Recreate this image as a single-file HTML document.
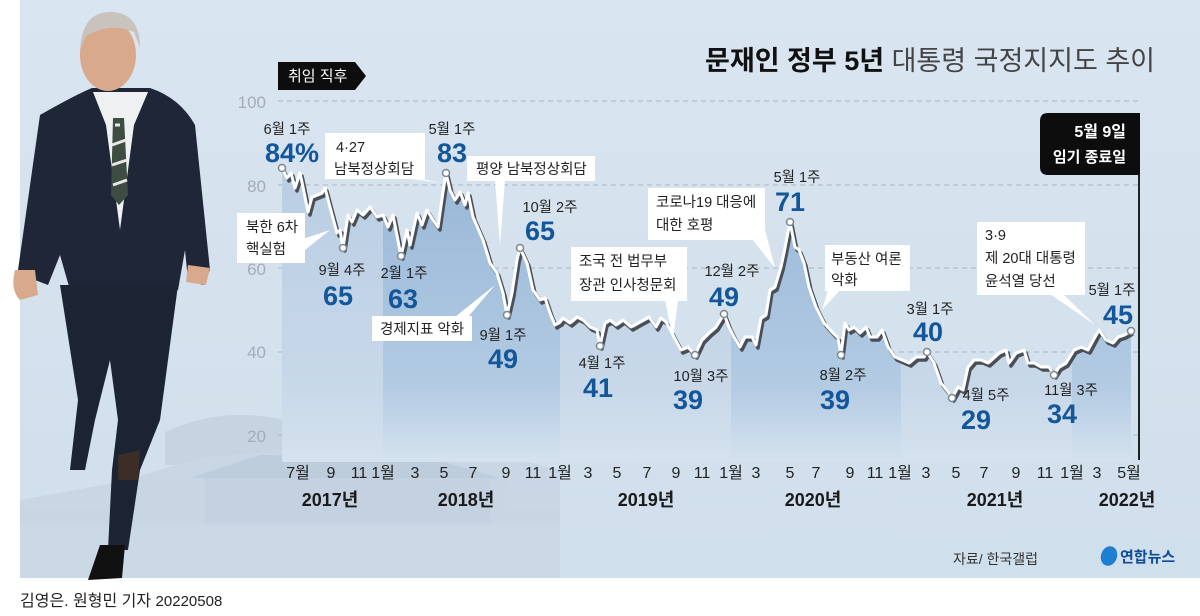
<!DOCTYPE html>
<html><head><meta charset="utf-8">
<style>
html,body{margin:0;padding:0;background:#fff;}
body{width:1200px;height:616px;overflow:hidden;position:relative;font-family:"Liberation Sans","Noto Sans CJK KR",sans-serif;}
svg{position:absolute;left:0;top:0;}
</style></head><body>
<svg width="1200" height="616" viewBox="0 0 1200 616" xmlns="http://www.w3.org/2000/svg" font-family="Liberation Sans, Noto Sans CJK KR, sans-serif">
<defs>
<linearGradient id="gd" x1="0" y1="0" x2="0" y2="1"><stop offset="0" stop-color="#98b7d7"/><stop offset="0.75" stop-color="#b3cbe3"/><stop offset="1" stop-color="#d5e2ee"/></linearGradient>
<linearGradient id="gl" x1="0" y1="0" x2="0" y2="1"><stop offset="0" stop-color="#b9cee3"/><stop offset="0.75" stop-color="#c8d8e9"/><stop offset="1" stop-color="#d5e2ee"/></linearGradient>
<linearGradient id="bg" x1="0" y1="0" x2="0" y2="1"><stop offset="0" stop-color="#d9e5f0"/><stop offset="1" stop-color="#d0dfec"/></linearGradient>
<clipPath id="cd"><rect x="383" y="0" width="177" height="470"/><rect x="731" y="0" width="170" height="470"/><rect x="1072" y="0" width="60" height="470"/></clipPath>
<path id="area" d="M282,168 287,178 291,173 295,188 300,173 303,187 308,212 312,197 322,193 325,188 330,207 337,233 340,230 343,248 348,215 352,222 357,210 363,215 370,207 377,217 383,215 388,227 393,215 401,256 407,230 410,245 417,213 422,225 427,210 433,220 438,227 443,192 446,173 450,190 455,200 460,192 465,205 468,193 473,217 483,240 490,263 497,273 503,293 507,315 512,293 517,260 520,248 527,263 533,290 540,300 545,298 550,313 555,325 560,322 563,318 570,323 577,317 583,320 590,327 597,330 600,346 605,323 610,320 616,325 623,320 631,327 638,323 649,317 656,327 661,318 666,322 674,337 681,350 688,347 695,355 702,340 709,333 716,327 724,314 729,327 734,337 740,347 745,337 752,337 756,345 761,318 766,315 770,290 775,287 781,267 784,253 790,222 795,247 799,250 804,263 809,287 816,307 824,323 833,333 838,338 841,355 845,323 849,330 854,327 860,333 866,327 870,337 877,337 882,330 888,347 895,357 902,360 909,363 916,357 924,357 927,352 934,363 941,383 949,393 952,398 958,387 963,390 968,367 974,360 981,360 988,363 999,353 1006,350 1009,363 1016,353 1024,350 1028,363 1034,363 1041,367 1049,367 1054,375 1059,367 1066,363 1074,350 1081,347 1088,350 1095,337 1099,330 1106,340 1113,343 1118,337 1124,335 1131,331 L1131,462 L282,462 Z"/>
</defs>
<rect x="20" y="0" width="1180" height="578" fill="url(#bg)"/>
<!-- palace silhouette -->
<g opacity="0.75">
<path d="M165,432 Q235,400 310,428 L320,465 L165,465 Z" fill="#c2cfdd"/>
<path d="M20,500 L120,482 L200,458 L330,445 L470,448 L560,470 L560,578 L20,578 Z" fill="#c6d3e1"/>
<path d="M190,478 L260,455 L420,455 L500,478 Z" fill="#b8c7d7"/>
<rect x="205" y="478" width="285" height="45" fill="#bfcddc"/>
<rect x="20" y="525" width="540" height="53" fill="#cad7e4"/>
</g>
<!-- grid -->
<g stroke="#a9b5c2" stroke-width="1" stroke-dasharray="5,4">
<line x1="278" y1="101" x2="1138" y2="101"/><line x1="278" y1="185" x2="1138" y2="185"/><line x1="278" y1="268" x2="1138" y2="268"/><line x1="278" y1="352" x2="1138" y2="352"/><line x1="278" y1="435" x2="1138" y2="435"/>
</g>
<g fill="#a3adb8" font-size="17" text-anchor="end">
<text x="266" y="108">100</text><text x="266" y="192">80</text><text x="266" y="275">60</text><text x="266" y="358">40</text><text x="266" y="442">20</text>
</g>
<use href="#area" fill="url(#gl)"/>
<use href="#area" fill="url(#gd)" clip-path="url(#cd)"/>
<line x1="1139" y1="150" x2="1139" y2="460" stroke="#222" stroke-width="2"/>
<!-- line -->
<polyline transform="translate(2,3)" fill="none" stroke="#4a4f57" stroke-width="3.5" stroke-linejoin="round" points="282,168 287,178 291,173 295,188 300,173 303,187 308,212 312,197 322,193 325,188 330,207 337,233 340,230 343,248 348,215 352,222 357,210 363,215 370,207 377,217 383,215 388,227 393,215 401,256 407,230 410,245 417,213 422,225 427,210 433,220 438,227 443,192 446,173 450,190 455,200 460,192 465,205 468,193 473,217 483,240 490,263 497,273 503,293 507,315 512,293 517,260 520,248 527,263 533,290 540,300 545,298 550,313 555,325 560,322 563,318 570,323 577,317 583,320 590,327 597,330 600,346 605,323 610,320 616,325 623,320 631,327 638,323 649,317 656,327 661,318 666,322 674,337 681,350 688,347 695,355 702,340 709,333 716,327 724,314 729,327 734,337 740,347 745,337 752,337 756,345 761,318 766,315 770,290 775,287 781,267 784,253 790,222 795,247 799,250 804,263 809,287 816,307 824,323 833,333 838,338 841,355 845,323 849,330 854,327 860,333 866,327 870,337 877,337 882,330 888,347 895,357 902,360 909,363 916,357 924,357 927,352 934,363 941,383 949,393 952,398 958,387 963,390 968,367 974,360 981,360 988,363 999,353 1006,350 1009,363 1016,353 1024,350 1028,363 1034,363 1041,367 1049,367 1054,375 1059,367 1066,363 1074,350 1081,347 1088,350 1095,337 1099,330 1106,340 1113,343 1118,337 1124,335 1131,331"/>
<polyline fill="none" stroke="#ffffff" stroke-width="3" stroke-linejoin="round" points="282,168 287,178 291,173 295,188 300,173 303,187 308,212 312,197 322,193 325,188 330,207 337,233 340,230 343,248 348,215 352,222 357,210 363,215 370,207 377,217 383,215 388,227 393,215 401,256 407,230 410,245 417,213 422,225 427,210 433,220 438,227 443,192 446,173 450,190 455,200 460,192 465,205 468,193 473,217 483,240 490,263 497,273 503,293 507,315 512,293 517,260 520,248 527,263 533,290 540,300 545,298 550,313 555,325 560,322 563,318 570,323 577,317 583,320 590,327 597,330 600,346 605,323 610,320 616,325 623,320 631,327 638,323 649,317 656,327 661,318 666,322 674,337 681,350 688,347 695,355 702,340 709,333 716,327 724,314 729,327 734,337 740,347 745,337 752,337 756,345 761,318 766,315 770,290 775,287 781,267 784,253 790,222 795,247 799,250 804,263 809,287 816,307 824,323 833,333 838,338 841,355 845,323 849,330 854,327 860,333 866,327 870,337 877,337 882,330 888,347 895,357 902,360 909,363 916,357 924,357 927,352 934,363 941,383 949,393 952,398 958,387 963,390 968,367 974,360 981,360 988,363 999,353 1006,350 1009,363 1016,353 1024,350 1028,363 1034,363 1041,367 1049,367 1054,375 1059,367 1066,363 1074,350 1081,347 1088,350 1095,337 1099,330 1106,340 1113,343 1118,337 1124,335 1131,331"/>
<g fill="#fff" stroke="#7d8792" stroke-width="1.5">
<circle cx="282" cy="168" r="3.5"/><circle cx="343" cy="248" r="3.5"/><circle cx="401" cy="256" r="3.5"/><circle cx="446" cy="173" r="3.5"/><circle cx="507" cy="315" r="3.5"/><circle cx="520" cy="248" r="3.5"/><circle cx="600" cy="346" r="3.5"/><circle cx="695" cy="355" r="3.5"/><circle cx="724" cy="314" r="3.5"/><circle cx="790" cy="222" r="3.5"/><circle cx="841" cy="355" r="3.5"/><circle cx="927" cy="352" r="3.5"/><circle cx="952" cy="398" r="3.5"/><circle cx="1054" cy="375" r="3.5"/><circle cx="1131" cy="331" r="3.5"/>
</g>
<!-- callouts -->
<g fill="#fff">
<rect x="325" y="133" width="100" height="46"/><path d="M405,178 L418,178 L440,183 Z"/>
<rect x="467" y="156" width="128" height="25"/><path d="M495,180 L505,180 L500,245 Z"/>
<rect x="237" y="213" width="68" height="50"/><path d="M300,240 L305,250 L330,230 Z"/>
<rect x="372" y="316" width="100" height="25"/><path d="M455,317 L468,317 L495,285 Z"/>
<rect x="571" y="247" width="116" height="54"/><path d="M665,300 L678,300 L673,340 Z"/>
<rect x="648" y="188" width="117" height="52"/><path d="M752,239 L765,230 L775,268 Z"/>
<rect x="825" y="245" width="85" height="46"/><path d="M828,290 L840,290 L822,310 Z"/>
<rect x="977" y="222" width="108" height="73"/><path d="M1050,294 L1063,294 L1095,325 Z"/>
</g>
<g font-size="14.5" fill="#222">
<text x="336" y="152">4·27</text><text x="334" y="174">남북정상회담</text>
<text x="476" y="174">평양 남북정상회담</text>
<text x="246" y="232">북한 6차</text><text x="246" y="254">핵실험</text>
<text x="380" y="334">경제지표 악화</text>
<text x="579" y="266">조국 전 법무부</text><text x="579" y="290">장관 인사청문회</text>
<text x="656" y="207">코로나19 대응에</text><text x="656" y="230">대한 호평</text>
<text x="831" y="264">부동산 여론</text><text x="831" y="285">악화</text>
<text x="985" y="240">3·9</text><text x="985" y="263">제 20대 대통령</text><text x="985" y="286">윤석열 당선</text>
</g>
<g font-size="14.5" fill="#222" text-anchor="middle">
<text x="287" y="134">6월 1주</text><text x="452" y="134">5월 1주</text><text x="342" y="275">9월 4주</text><text x="404" y="278">2월 1주</text>
<text x="503" y="340">9월 1주</text><text x="550" y="212">10월 2주</text><text x="602" y="368">4월 1주</text><text x="701" y="381">10월 3주</text>
<text x="732" y="276">12월 2주</text><text x="797" y="182">5월 1주</text><text x="843" y="380">8월 2주</text><text x="930" y="314">3월 1주</text>
<text x="986" y="400">4월 5주</text><text x="1071" y="395">11월 3주</text><text x="1112" y="295">5월 1주</text>
</g>
<g font-size="27" font-weight="bold" fill="#13569a" text-anchor="middle">
<text x="292" y="162">84%</text><text x="452" y="162">83</text><text x="338" y="305">65</text><text x="403" y="308">63</text>
<text x="503" y="368">49</text><text x="540" y="240">65</text><text x="598" y="397">41</text><text x="688" y="409">39</text>
<text x="724" y="306">49</text><text x="790" y="211">71</text><text x="835" y="409">39</text><text x="928" y="341">40</text>
<text x="976" y="429">29</text><text x="1062" y="423">34</text><text x="1118" y="324">45</text>
</g>
<!-- end-of-term box -->
<path d="M1048,113 L1140,113 L1140,175 L1048,175 Q1040,175 1040,167 L1040,121 Q1040,113 1048,113 Z" fill="#0d0d0d"/>
<text x="1126" y="137" font-size="16" font-weight="bold" fill="#fff" text-anchor="end">5월 9일</text>
<text x="1126" y="162" font-size="15" font-weight="bold" fill="#fff" text-anchor="end">임기 종료일</text>
<!-- 취임 직후 tab -->
<path d="M278,62 L355,62 L366,76 L355,90 L278,90 Z" fill="#0d0d0d"/>
<text x="288" y="81" font-size="15" fill="#fff">취임 직후</text>
<!-- title -->
<text x="1155" y="70" font-size="27" fill="#222" text-anchor="end"><tspan font-weight="bold" fill="#111">문재인 정부 5년</tspan><tspan fill="#444"> 대통령 국정지지도 추이</tspan></text>
<!-- axis labels -->
<g font-size="16" fill="#222" text-anchor="middle">
<text x="298" y="478">7월</text><text x="331" y="478">9</text><text x="359" y="478">11</text><text x="383" y="478">1월</text><text x="415" y="478">3</text><text x="444" y="478">5</text><text x="473" y="478">7</text><text x="506" y="478">9</text><text x="533" y="478">11</text>
<text x="560" y="478">1월</text><text x="588" y="478">3</text><text x="617" y="478">5</text><text x="647" y="478">7</text><text x="676" y="478">9</text><text x="702" y="478">11</text>
<text x="731" y="478">1월</text><text x="756" y="478">3</text><text x="790" y="478">5</text><text x="816" y="478">7</text><text x="850" y="478">9</text><text x="875" y="478">11</text>
<text x="900" y="478">1월</text><text x="926" y="478">3</text><text x="956" y="478">5</text><text x="984" y="478">7</text><text x="1016" y="478">9</text><text x="1045" y="478">11</text>
<text x="1072" y="478">1월</text><text x="1097" y="478">3</text><text x="1129" y="478">5월</text>
</g>
<g font-size="18" font-weight="bold" fill="#1a1a1a" text-anchor="middle">
<text x="330" y="506">2017년</text><text x="466" y="506">2018년</text><text x="646" y="506">2019년</text><text x="813" y="506">2020년</text><text x="995" y="506">2021년</text><text x="1127" y="506">2022년</text>
</g>
<text x="953" y="564" font-size="14" fill="#333">자료/ 한국갤럽</text>
<ellipse cx="1109" cy="556" rx="8" ry="10" fill="#1e7fd0" transform="rotate(20 1109 556)"/>
<text x="1120" y="562" font-size="15" font-weight="bold" fill="#0f4c97">연합뉴스</text>
<!-- man figure -->
<g>
<path d="M40,115 Q75,95 92,88 L150,88 Q180,98 195,125 L210,270 L203,285 L188,280 L185,250 L178,290 L70,290 L60,255 L48,285 L35,280 L18,270 Z" fill="#1e2637"/>
<path d="M93,92 L106,125 L120,230 L134,125 L148,92 Z" fill="#eef0f2"/>
<path d="M113,118 L124,118 L128,195 L119,205 L111,195 Z" fill="#3e4d42"/>
<path d="M115,125 L120,125 M112,145 L126,140 M112,165 L127,160 M113,185 L127,180" stroke="#e7e7e7" stroke-width="3"/>
<path d="M60,285 L178,285 L172,330 L160,420 L140,470 L128,550 L108,550 L112,470 L118,420 L110,360 L95,420 L85,470 L70,470 L78,400 Z" fill="#1c2333"/>
<path d="M100,545 L125,545 L122,578 L88,580 Z" fill="#111"/>
<path d="M118,455 L140,450 L138,480 L118,480 Z" fill="#3a2e27"/>
<ellipse cx="108" cy="55" rx="28" ry="36" fill="#d9a98c"/>
<path d="M80,50 Q82,12 110,12 Q140,12 140,48 L134,32 Q110,22 86,36 Z" fill="#c9c3bd"/>
<path d="M15,270 Q10,290 20,300 L38,295 L35,270 Z" fill="#d9a98c"/>
<path d="M188,265 L210,268 L206,285 L186,282 Z" fill="#d9a98c"/>
</g>
<text x="20" y="606" font-size="16" fill="#222">김영은. 원형민 기자 <tspan font-size="15">20220508</tspan></text>
</svg>
</body></html>
